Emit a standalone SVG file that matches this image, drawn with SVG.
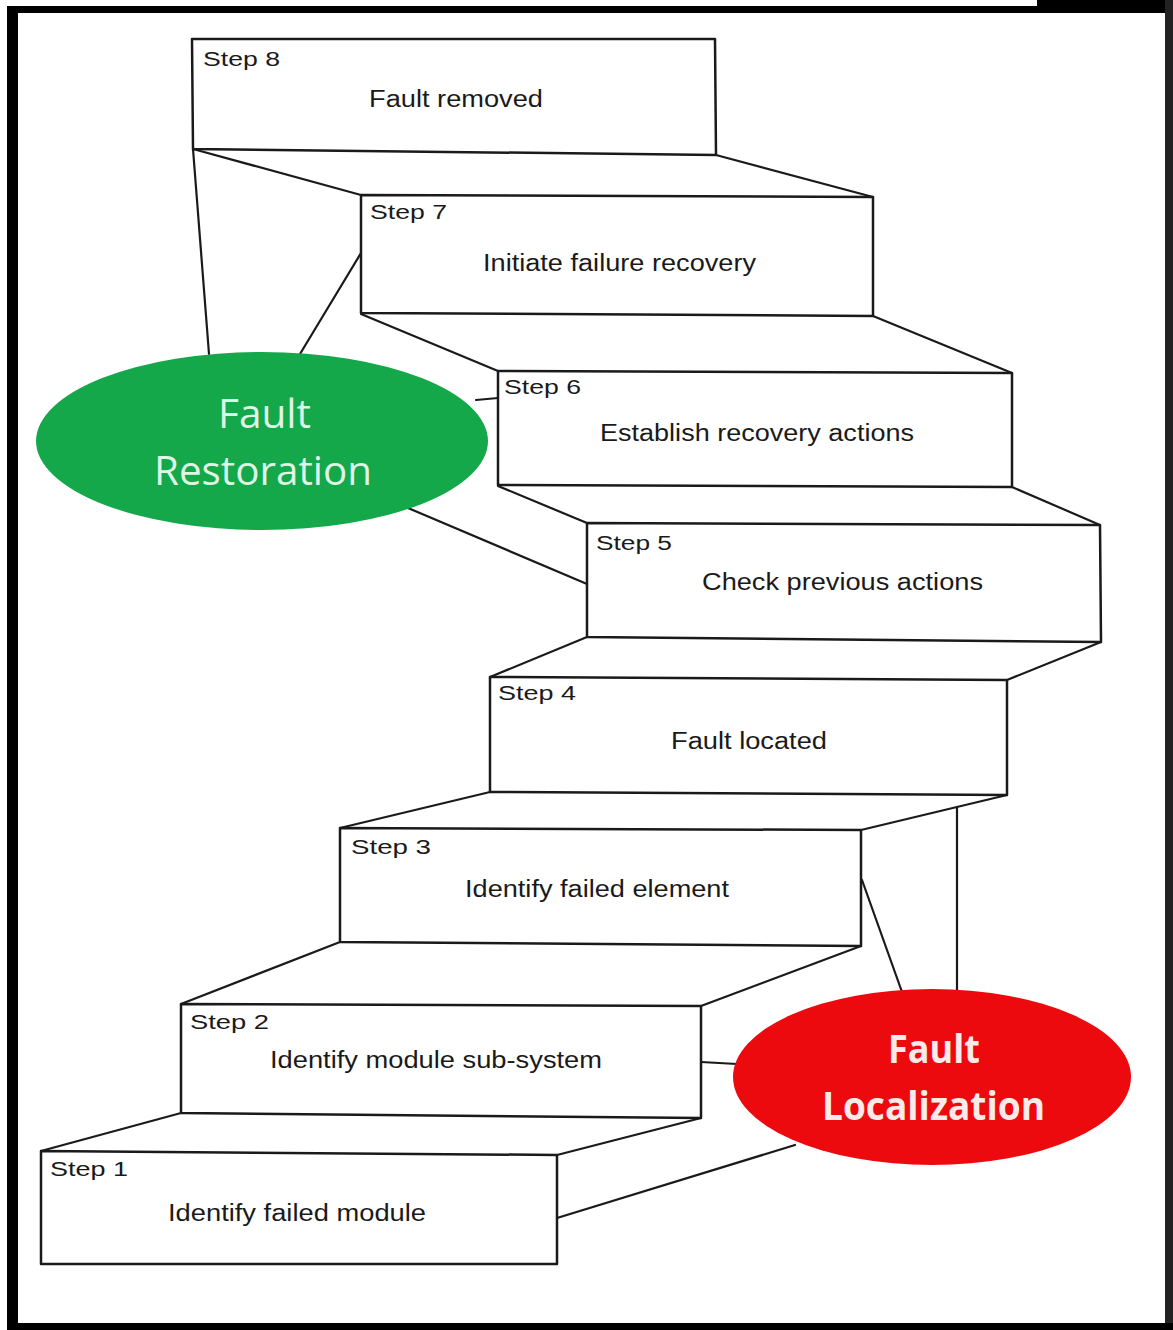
<svg xmlns="http://www.w3.org/2000/svg" width="1173" height="1330" viewBox="0 0 1173 1330">
<style>
.step{fill:#ffffff;stroke:#1a1a1a;stroke-width:2.5;stroke-linejoin:round}
.edge{fill:none;stroke:#1a1a1a;stroke-width:2.2;stroke-linecap:round}
.lbl{font-family:"Liberation Sans",Arial,sans-serif;font-size:20px;fill:#1a1a1a}
.txt{font-family:"Liberation Sans",Arial,sans-serif;font-size:23px;fill:#1a1a1a;text-anchor:start}
.gtxt{font-family:"Open Sans","Noto Sans",sans-serif;font-size:40px;fill:#dff5e6}
.rtxt{font-family:"Open Sans","Noto Sans",sans-serif;font-size:39px;font-weight:bold;fill:#fbeaea}
</style>
<rect x="0" y="0" width="1173" height="1330" fill="#ffffff"/>
<g id="frame" fill="#000000">
<rect x="7" y="6" width="11" height="1324"/>
<rect x="7" y="6" width="1166" height="7"/>
<rect x="1037" y="0" width="136" height="13"/>
<rect x="1165" y="0" width="8" height="1330" fill="#222222"/>
<rect x="7" y="1323" width="1166" height="7"/>
</g>
<g id="connectors">
<line class="edge" x1="193" y1="149" x2="361" y2="195"/>
<line class="edge" x1="716" y1="155" x2="873" y2="197"/>
<line class="edge" x1="361" y1="314" x2="498" y2="371"/>
<line class="edge" x1="873" y1="316" x2="1012" y2="373"/>
<line class="edge" x1="498" y1="486" x2="587" y2="523"/>
<line class="edge" x1="1012" y1="487" x2="1100" y2="525"/>
<line class="edge" x1="587" y1="637" x2="490" y2="677"/>
<line class="edge" x1="1101" y1="642" x2="1007" y2="680"/>
<line class="edge" x1="490" y1="792" x2="340" y2="828"/>
<line class="edge" x1="1007" y1="795" x2="861" y2="830"/>
<line class="edge" x1="340" y1="942" x2="181" y2="1004"/>
<line class="edge" x1="861" y1="946" x2="701" y2="1006"/>
<line class="edge" x1="181" y1="1113" x2="41" y2="1151"/>
<line class="edge" x1="701" y1="1118" x2="557" y2="1155"/>
<line class="edge" x1="193" y1="149" x2="209" y2="354"/>
<line class="edge" x1="361" y1="253" x2="300" y2="354"/>
<line class="edge" x1="476" y1="400" x2="498" y2="398"/>
<line class="edge" x1="408" y1="508" x2="587" y2="584"/>
<line class="edge" x1="862" y1="880" x2="902" y2="992"/>
<line class="edge" x1="957" y1="807" x2="957" y2="992"/>
<line class="edge" x1="701" y1="1062" x2="737" y2="1064"/>
<line class="edge" x1="557" y1="1218" x2="795" y2="1145"/>
</g>
<g id="step8">
<polygon class="step" points="192,39 715,39 716,155 193,149"/>
<text class="lbl" x="203" y="66" textLength="77" lengthAdjust="spacingAndGlyphs">Step 8</text>
<text class="txt" x="369" y="107" textLength="174" lengthAdjust="spacingAndGlyphs">Fault removed</text>
</g>
<g id="step7">
<polygon class="step" points="361,195 873,197 873,316 361,313"/>
<text class="lbl" x="370" y="219" textLength="77" lengthAdjust="spacingAndGlyphs">Step 7</text>
<text class="txt" x="483" y="271" textLength="273" lengthAdjust="spacingAndGlyphs">Initiate failure recovery</text>
</g>
<g id="step6">
<polygon class="step" points="498,371 1012,373 1012,487 498,485"/>
<text class="lbl" x="504" y="394" textLength="77" lengthAdjust="spacingAndGlyphs">Step 6</text>
<text class="txt" x="600" y="441" textLength="314" lengthAdjust="spacingAndGlyphs">Establish recovery actions</text>
</g>
<g id="step5">
<polygon class="step" points="587,523 1100,525 1101,642 587,637"/>
<text class="lbl" x="596" y="550" textLength="76" lengthAdjust="spacingAndGlyphs">Step 5</text>
<text class="txt" x="702" y="590" textLength="281" lengthAdjust="spacingAndGlyphs">Check previous actions</text>
</g>
<g id="step4">
<polygon class="step" points="490,677 1007,680 1007,795 490,792"/>
<text class="lbl" x="498" y="700" textLength="78" lengthAdjust="spacingAndGlyphs">Step 4</text>
<text class="txt" x="671" y="749" textLength="156" lengthAdjust="spacingAndGlyphs">Fault located</text>
</g>
<g id="step3">
<polygon class="step" points="340,828 861,830 861,946 340,942"/>
<text class="lbl" x="351" y="854" textLength="80" lengthAdjust="spacingAndGlyphs">Step 3</text>
<text class="txt" x="465" y="897" textLength="264" lengthAdjust="spacingAndGlyphs">Identify failed element</text>
</g>
<g id="step2">
<polygon class="step" points="181,1004 701,1006 701,1118 181,1113"/>
<text class="lbl" x="190" y="1029" textLength="79" lengthAdjust="spacingAndGlyphs">Step 2</text>
<text class="txt" x="270" y="1068" textLength="332" lengthAdjust="spacingAndGlyphs">Identify module sub-system</text>
</g>
<g id="step1">
<polygon class="step" points="41,1151 557,1155 557,1264 41,1264"/>
<text class="lbl" x="50" y="1176" textLength="78" lengthAdjust="spacingAndGlyphs">Step 1</text>
<text class="txt" x="168" y="1221" textLength="258" lengthAdjust="spacingAndGlyphs">Identify failed module</text>
</g>
<g id="fault-restoration">
<ellipse cx="262" cy="441" rx="226" ry="89" fill="#14a84b"/>
<text class="gtxt" x="218" y="428" textLength="93" lengthAdjust="spacingAndGlyphs">Fault</text>
<text class="gtxt" x="154" y="485" textLength="218" lengthAdjust="spacingAndGlyphs">Restoration</text>
</g>
<g id="fault-localization">
<ellipse cx="932" cy="1077" rx="199" ry="88" fill="#ec0a0f"/>
<text class="rtxt" x="888" y="1063" textLength="92" lengthAdjust="spacingAndGlyphs">Fault</text>
<text class="rtxt" x="822" y="1120" textLength="223" lengthAdjust="spacingAndGlyphs">Localization</text>
</g>
</svg>
